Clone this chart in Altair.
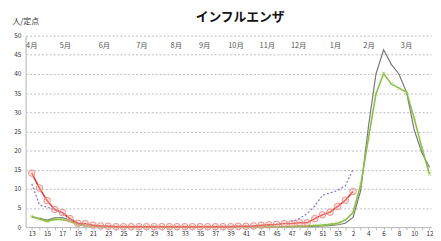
import altair as alt
import pandas as pd

weeks = [str(w) for w in range(13, 54)] + [str(w) for w in range(1, 13)]

red_vals = [14.1, 10.2, 6.9, 4.6, 3.8, 2.2, 1.0, 0.9, 0.5, 0.3,
            0.2, 0.1, 0.1, 0.1, 0.1, 0.1, 0.1, 0.1, 0.1, 0.1,
            0.1, 0.1, 0.1, 0.1, 0.1, 0.1, 0.1, 0.2, 0.2, 0.3,
            0.5, 0.6, 0.7, 0.9, 0.9, 1.1, 1.1, 2.2, 3.2, 3.9,
            5.4, 7.0, 9.3]
purple_vals = [11.3, 5.8, 5.2, 4.5, 3.5, 2.0, 1.0, 0.6, 0.4, 0.3,
               0.2, 0.2, 0.1, 0.1, 0.1, 0.1, 0.1, 0.1, 0.1, 0.1,
               0.1, 0.1, 0.1, 0.1, 0.2, 0.2, 0.2, 0.2, 0.3, 0.3,
               0.4, 0.5, 0.7, 1.0, 1.4, 2.2, 3.5, 5.5, 8.3, 8.9,
               9.6, 10.8, 15.1]
gray_vals = [2.5, 2.3, 1.8, 2.4, 2.5, 1.8, 0.8, 0.4, 0.3, 0.2,
             0.1, 0.1, 0.1, 0.1, 0.1, 0.1, 0.1, 0.1, 0.1, 0.1,
             0.1, 0.1, 0.1, 0.1, 0.1, 0.1, 0.1, 0.1, 0.1, 0.1,
             0.1, 0.1, 0.1, 0.1, 0.1, 0.2, 0.2, 0.2, 0.3, 0.4,
             0.6, 1.0, 2.5, 9.5, 26.0, 40.0, 46.3, 42.5, 40.0, 35.2,
             25.4, 19.4, 15.6]
green_vals = [2.8, 2.1, 1.5, 2.0, 2.0, 1.5, 0.6, 0.4, 0.3, 0.2,
              0.1, 0.1, 0.1, 0.1, 0.1, 0.1, 0.1, 0.1, 0.1, 0.1,
              0.1, 0.1, 0.1, 0.1, 0.1, 0.1, 0.1, 0.1, 0.1, 0.1,
              0.1, 0.1, 0.1, 0.1, 0.2, 0.2, 0.3, 0.4, 0.5, 0.7,
              1.0, 1.8, 3.8, 11.0, 23.0, 34.8, 40.1, 37.4, 36.3, 35.3,
              28.4, 20.7, 13.8]

months = ["4月", "5月", "6月", "7月", "8月", "9月", "10月", "11月", "12月", "1月", "2月", "3月"]
month_pos = [0.0, 4.4, 9.5, 14.4, 18.9, 22.6, 26.7, 30.8, 34.9, 39.7, 44.1, 49.0]

FONT = "Noto Sans CJK JP"


def series_df(vals):
    return pd.DataFrame({"idx": list(range(len(vals))), "v": vals})


label_expr = "[" + ",".join("'%s'" % (w if i % 2 == 0 else "") for i, w in enumerate(weeks)) + "][datum.value]"

x_scale = alt.Scale(domain=[-0.8, len(weeks) - 0.8], nice=False, zero=False)
x_axis = alt.Axis(values=list(range(len(weeks))), labelExpr=label_expr,
                  grid=False, tickSize=3, tickColor="#bbbbbb",
                  domainColor="#bbbbbb", labelFontSize=6.5, labelColor="#333333",
                  labelPadding=1, labelOverlap=False, labelFlush=False,
                  labelBound=False, labelFont=FONT, title=None)
x_enc = alt.X("idx:Q", scale=x_scale, axis=x_axis)
y_enc = alt.Y("v:Q",
              scale=alt.Scale(domain=[0, 50], nice=False),
              axis=alt.Axis(values=list(range(0, 51, 5)), grid=True, gridDash=[2, 2],
                            gridColor="#aaaaaa", gridWidth=0.8, tickSize=0,
                            domainColor="#cccccc", domainWidth=1.5, labelFontSize=6.5,
                            labelColor="#333333", labelPadding=5, labelFont=FONT,
                            title="人/定点", titleAngle=0, titleAlign="left",
                            titleBaseline="middle", titleX=-14, titleY=-14,
                            titleFontSize=8, titleFontWeight="normal", titleColor="#333333",
                            titleFont=FONT))

purple = alt.Chart(series_df(purple_vals)).mark_line(
    color="#8a7cc8", strokeWidth=1.3, strokeDash=[2, 2]).encode(x=x_enc, y=y_enc)
gray = alt.Chart(series_df(gray_vals)).mark_line(
    color="#777777", strokeWidth=1.2).encode(x=x_enc, y=y_enc)
green = alt.Chart(series_df(green_vals)).mark_line(
    color="#8cbf45", strokeWidth=1.6).encode(x=x_enc, y=y_enc)
green_pts = alt.Chart(series_df(green_vals)).mark_point(
    shape="M-1,-1L1,1M-1,1L1,-1", size=14, color="#9ccc55", strokeWidth=1, filled=False
).encode(x=x_enc, y=y_enc)
red = alt.Chart(series_df(red_vals)).mark_line(
    color="#e0302c", strokeWidth=1.5).encode(x=x_enc, y=y_enc)
red_pts = alt.Chart(series_df(red_vals)).mark_point(
    shape="circle", size=45, fill="#f4b8b4", fillOpacity=0.4, stroke="#ee8f8a",
    strokeWidth=1, filled=False
).encode(x=x_enc, y=y_enc)

month_df = pd.DataFrame({"idx": month_pos, "m": months})
month_text = alt.Chart(month_df).mark_text(
    font=FONT, fontSize=7.5, color="#555555", baseline="middle", align="center"
).encode(x=x_enc, y=alt.value(11), text="m:N")

chart = alt.layer(purple, gray, green, green_pts, red, red_pts, month_text).properties(
    width=413, height=195,
    title=alt.TitleParams("インフルエンザ", font=FONT, fontSize=13, fontWeight="bold",
                          color="#111111", anchor="middle", dx=12, dy=6, offset=0),
    autosize=alt.AutoSizeParams(type="none"),
    padding={"left": 18, "top": 26, "right": 2, "bottom": 12},
).configure_view(stroke=None)

chart.save("out.html", embed_options={"renderer": "svg", "actions": False})
